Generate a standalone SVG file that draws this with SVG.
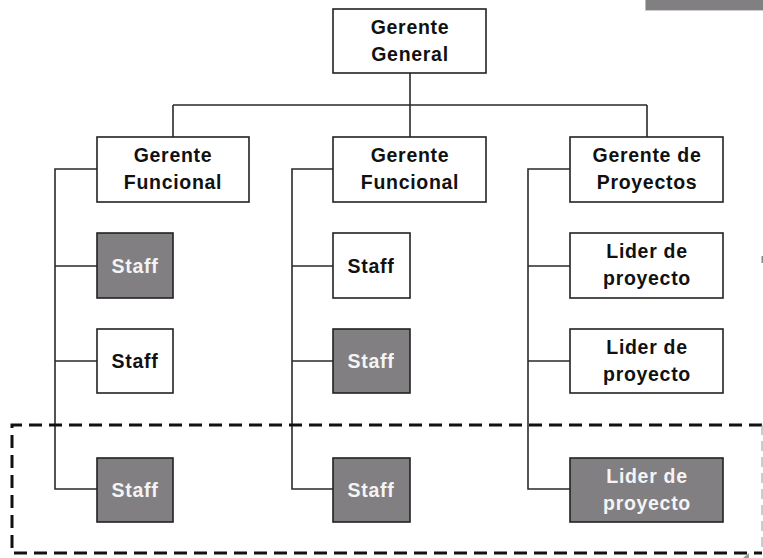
<svg xmlns="http://www.w3.org/2000/svg" width="763" height="558" viewBox="0 0 763 558">
<style>
.box{fill:#fff;stroke:#222;stroke-width:1.6}
.dark{fill:#817f82;stroke:#222;stroke-width:1.6}
.t{font-family:"Liberation Sans",Arial,sans-serif;font-weight:bold;font-size:19.5px;letter-spacing:0.7px;text-anchor:middle;fill:#111}
.w{fill:#f4f4f4}
.ln{fill:none;stroke:#2a2a2a;stroke-width:1.6}
</style>
<rect x="645" y="0" width="118" height="10" fill="#817f82"/>
<line x1="645.5" y1="0" x2="645.5" y2="10" stroke="#bbb" stroke-width="1"/>
<line x1="645" y1="10.5" x2="763" y2="10.5" stroke="#ccc" stroke-width="1"/>
<rect x="761.5" y="256" width="1.5" height="7" fill="#888"/>
<g id="connectors">
<path class="ln" d="M410 73V137M173 105H647M173 105V137M647 105V137"/>
<path class="ln" d="M97 169H55V489H97M55 266H97M55 361H97"/>
<path class="ln" d="M333 169H292V489H333M292 266H333M292 361H333"/>
<path class="ln" d="M570 169H528V489H570M528 266H570M528 361H570"/>
</g>
<g id="gerente-general"><rect class="box" x="333" y="9" width="153" height="64"/><text class="t" x="410" y="34">Gerente</text><text class="t" x="410" y="61">General</text></g>
<g id="gerente-funcional-1"><rect class="box" x="97" y="137" width="152" height="65"/><text class="t" x="173" y="162">Gerente</text><text class="t" x="173" y="189">Funcional</text></g>
<g id="gerente-funcional-2"><rect class="box" x="333" y="137" width="153" height="65"/><text class="t" x="410" y="162">Gerente</text><text class="t" x="410" y="189">Funcional</text></g>
<g id="gerente-proyectos"><rect class="box" x="570" y="137" width="153" height="65"/><text class="t" x="647" y="162">Gerente de</text><text class="t" x="647" y="189">Proyectos</text></g>
<g id="staff-1-1"><rect class="dark" x="97" y="233" width="76" height="65"/><text class="t w" x="135" y="273">Staff</text></g>
<g id="staff-1-2"><rect class="box" x="97" y="329" width="76" height="64"/><text class="t" x="135" y="368">Staff</text></g>
<g id="staff-1-3"><rect class="dark" x="97" y="458" width="76" height="64"/><text class="t w" x="135" y="497">Staff</text></g>
<g id="staff-2-1"><rect class="box" x="333" y="233" width="77" height="65"/><text class="t" x="371" y="273">Staff</text></g>
<g id="staff-2-2"><rect class="dark" x="333" y="329" width="77" height="64"/><text class="t w" x="371" y="368">Staff</text></g>
<g id="staff-2-3"><rect class="dark" x="333" y="458" width="77" height="64"/><text class="t w" x="371" y="497">Staff</text></g>
<g id="lider-1"><rect class="box" x="570" y="233" width="153" height="65"/><text class="t" x="647" y="258">Lider de</text><text class="t" x="647" y="285">proyecto</text></g>
<g id="lider-2"><rect class="box" x="570" y="329" width="153" height="64"/><text class="t" x="647" y="354">Lider de</text><text class="t" x="647" y="381">proyecto</text></g>
<g id="lider-3"><rect class="dark" x="570" y="458" width="153" height="64"/><text class="t w" x="647" y="483">Lider de</text><text class="t w" x="647" y="510">proyecto</text></g>
<g id="highlight">
<path d="M762 425H12V553H762" fill="none" stroke="#111" stroke-width="3" stroke-dasharray="13 7"/>
<path d="M762 425V553" fill="none" stroke="#999" stroke-width="1" stroke-dasharray="10 6"/>
<polygon points="743,558 749,553 749,558" fill="#999"/>
</g>
</svg>
